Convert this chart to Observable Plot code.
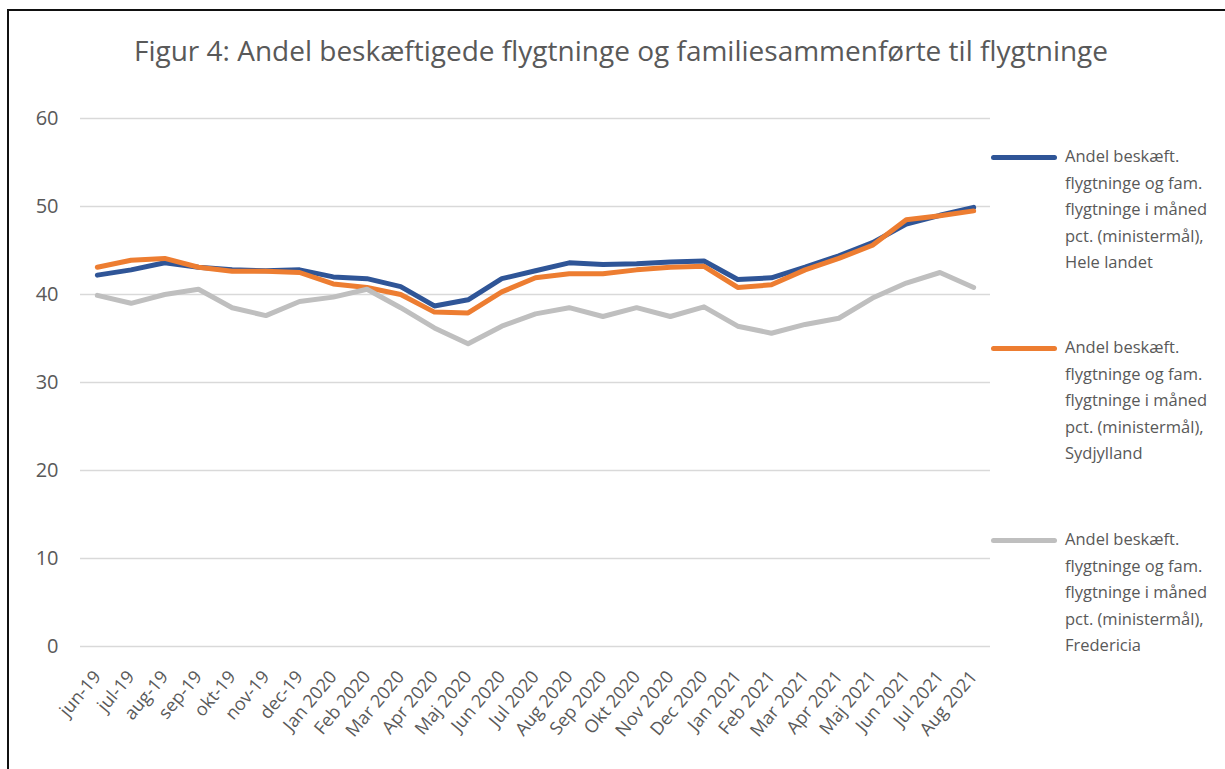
<!DOCTYPE html>
<html><head><meta charset="utf-8">
<script src="https://cdn.jsdelivr.net/npm/d3@7"></script>
<script src="https://cdn.jsdelivr.net/npm/@observablehq/plot@0.6"></script>
<style>
body{margin:0;background:#fff;font-family:"Open Sans",sans-serif;width:1225px;height:769px;overflow:hidden;position:relative;}
#frame{position:absolute;left:7px;top:9px;width:1230px;height:780px;border-top:2px solid #111;border-left:2px solid #111;}
#title{position:absolute;left:0;width:1242px;top:29px;text-align:center;font-size:28px;color:#595959;white-space:nowrap;line-height:42px;}
#chart{position:absolute;left:0;top:90px;}
#chart g[aria-label="x-axis tick label"]{font-size:18px;}
#chart g[aria-label="y-axis tick label"]{font-size:20px;}
.leg{position:absolute;left:991px;width:240px;}
.leg .sw{position:absolute;left:0;width:66px;height:5px;border-radius:3px;}
.leg .tx{position:absolute;left:74px;top:-14px;font-size:16.5px;line-height:26.5px;color:#595959;white-space:nowrap;}
</style></head>
<body>
<div id="frame"></div>
<div id="title">Figur 4: Andel beskæftigede flygtninge og familiesammenførte til flygtninge</div>
<div id="chart"></div>
<div id="legend"></div>
<script>
const months = ["jun-19","jul-19","aug-19","sep-19","okt-19","nov-19","dec-19","Jan 2020","Feb 2020","Mar 2020","Apr 2020","Maj 2020","Jun 2020","Jul 2020","Aug 2020","Sep 2020","Okt 2020","Nov 2020","Dec 2020","Jan 2021","Feb 2021","Mar 2021","Apr 2021","Maj 2021","Jun 2021","Jul 2021","Aug 2021"];
const heleLandet = [42.2,42.8,43.6,43.1,42.8,42.7,42.8,42.0,41.8,40.9,38.7,39.4,41.8,42.7,43.6,43.4,43.5,43.7,43.8,41.7,41.9,43.1,44.4,45.9,48.0,49.0,49.9];
const sydjylland = [43.1,43.9,44.1,43.1,42.65,42.65,42.5,41.2,40.8,40.0,38.0,37.9,40.3,41.9,42.35,42.35,42.8,43.1,43.2,40.8,41.1,42.8,44.1,45.6,48.5,48.95,49.5];
const fredericia = [39.9,39.0,40.0,40.6,38.5,37.6,39.2,39.7,40.6,38.5,36.2,34.4,36.4,37.8,38.5,37.5,38.5,37.5,38.6,36.4,35.6,36.6,37.3,39.6,41.3,42.5,40.8];
const seriesNames = [
  "Andel beskæft. flygtninge og fam. flygtninge i måned pct. (ministermål), Hele landet",
  "Andel beskæft. flygtninge og fam. flygtninge i måned pct. (ministermål), Sydjylland",
  "Andel beskæft. flygtninge og fam. flygtninge i måned pct. (ministermål), Fredericia"
];
const legendLines = [
  ["Andel beskæft.","flygtninge og fam.","flygtninge i måned","pct. (ministermål),","Hele landet"],
  ["Andel beskæft.","flygtninge og fam.","flygtninge i måned","pct. (ministermål),","Sydjylland"],
  ["Andel beskæft.","flygtninge og fam.","flygtninge i måned","pct. (ministermål),","Fredericia"]
];
const colors = ["#2F5597","#ED7D31","#BFBFBF"];
const yTicks = [0,10,20,30,40,50,60];

const allSeries = [heleLandet, sydjylland, fredericia];
const rows = [];
allSeries.forEach((vals, s) => vals.forEach((v, i) => rows.push({month: months[i], value: v, series: seriesNames[s]})));

const chart = Plot.plot({
  width: 1000,
  height: 679,
  marginTop: 28,
  marginBottom: 123,
  marginLeft: 80,
  marginRight: 10,
  style: {fontFamily: '"Open Sans", sans-serif', color: "#595959", background: "transparent"},
  x: {type: "point", domain: months, padding: 0.5, round: false, label: null},
  y: {domain: [0, 60], ticks: yTicks, label: null},
  color: {domain: seriesNames, range: colors},
  marks: [
    Plot.gridY(yTicks, {stroke: "#D9D9D9", strokeOpacity: 1, strokeWidth: 1.5}),
    Plot.axisY(yTicks, {tickSize: 0, tickPadding: 22, fill: "#595959"}),
    Plot.axisX({tickSize: 0, tickRotate: -50, tickPadding: 20, dy: 7, fill: "#595959"}),
    Plot.line(rows, {x: "month", y: "value", z: "series", stroke: "series", strokeWidth: 5, strokeLinejoin: "round", strokeLinecap: "round"})
  ]
});
document.getElementById("chart").appendChild(chart);

const legTops = [157, 348, 540];
const leg = document.getElementById("legend");
legendLines.forEach((lines, i) => {
  const d = document.createElement("div");
  d.className = "leg";
  d.style.top = legTops[i] + "px";
  d.innerHTML = `<div class="sw" style="background:${colors[i]};top:-2px"></div><div class="tx">${lines.join("<br>")}</div>`;
  leg.appendChild(d);
});
</script>
</body></html>
